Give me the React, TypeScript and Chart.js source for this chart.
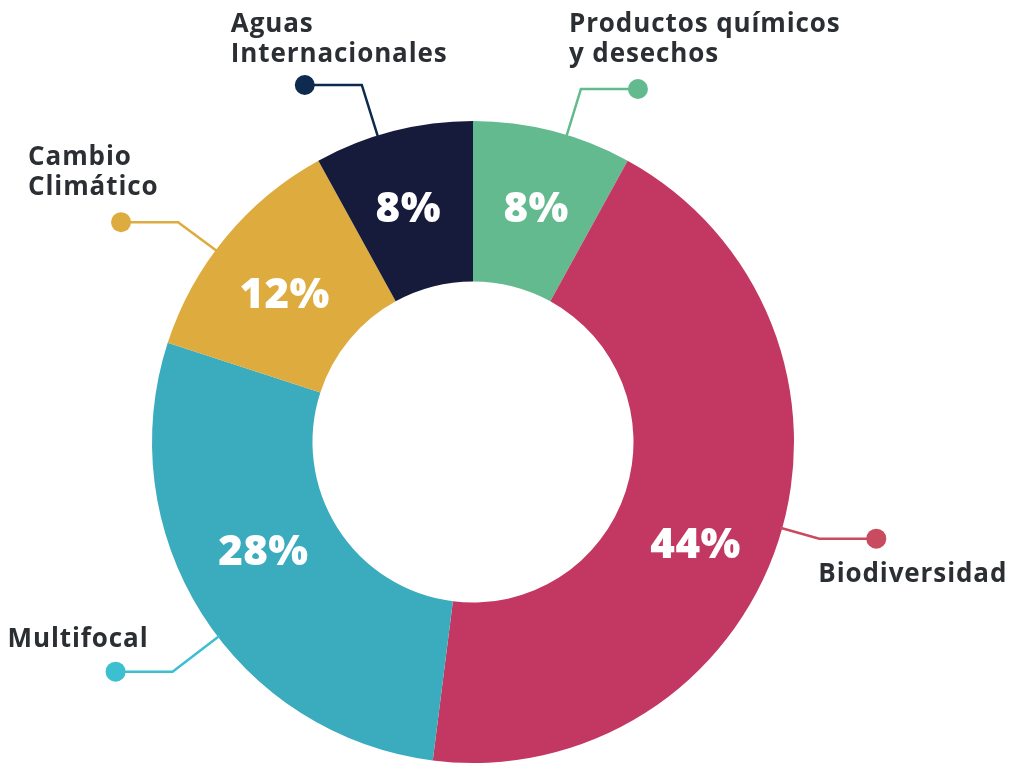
import React, { useEffect, useRef } from "react";
import { Chart, registerables } from "chart.js";

Chart.register(...registerables);

// ---- data ----
const categories: string[][] = [
  ["Productos químicos", "y desechos"],
  ["Biodiversidad"],
  ["Multifocal"],
  ["Cambio", "Climático"],
  ["Aguas", "Internacionales"],
];
const values: number[] = [8, 44, 28, 12, 8];
const percentLabels: string[] = ["8%", "44%", "28%", "12%", "8%"];

// ---- styles ----
const segmentColors = ["#62BA8E", "#C23862", "#3AACBD", "#DEAB3E", "#171B3B"];
const leaderColors = ["#62BA8E", "#C84B5F", "#3DBFD2", "#DEAB3E", "#0E2A4E"];

// label layout (degrees / scale factors / pixel offsets relative to dot)
const pctAngleShift = [0.8, 7, 4.5, -1.8, -1.2];
const pctRadiusScale = [1.0, 1.02, 0.985, 0.99, 1.0];
const leaderAngleShift = [2.6, -2.4, -5, -2.9, -2.9];
const elbowScale = [1.15, 1.12, 1.178, 1.146, 1.165];
const textOffsetX = [-69, -58, -108, -93, -74];
const textBaselineY = [-57, 43, -25, -57, -53];

const DEG = Math.PI / 180;

const labelPlugin = {
  id: "leaderLabels",
  afterDatasetsDraw(chart: any) {
    const ctx: CanvasRenderingContext2D = chart.ctx;
    const meta = chart.getDatasetMeta(0);
    meta.data.forEach((arc: any, i: number) => {
      const p = arc.getProps(
        ["x", "y", "startAngle", "endAngle", "innerRadius", "outerRadius"],
        true
      );
      const mid = (p.startAngle + p.endAngle) / 2;

      // percent label
      ctx.save();
      const pa = mid + pctAngleShift[i] * DEG;
      const pr = ((p.innerRadius + p.outerRadius) / 2) * pctRadiusScale[i];
      ctx.fillStyle = "#FFFFFF";
      ctx.font = "800 42px 'Open Sans'";
      (ctx as any).letterSpacing = "0.5px";
      ctx.textAlign = "center";
      ctx.textBaseline = "middle";
      ctx.fillText(percentLabels[i], p.x + pr * Math.cos(pa), p.y + pr * Math.sin(pa));
      ctx.restore();

      // leader line
      const la = mid + leaderAngleShift[i] * DEG;
      const sx = p.x + (p.outerRadius - 2) * Math.cos(la);
      const sy = p.y + (p.outerRadius - 2) * Math.sin(la);
      const er = p.outerRadius * elbowScale[i];
      const ex = p.x + er * Math.cos(la);
      const ey = p.y + er * Math.sin(la);
      const dir = Math.cos(la) >= 0 ? 1 : -1;
      const dx = ex + dir * 57;
      const dy = ey;

      ctx.save();
      ctx.strokeStyle = leaderColors[i];
      ctx.lineWidth = 2.5;
      ctx.beginPath();
      ctx.moveTo(sx, sy);
      ctx.lineTo(ex, ey);
      ctx.lineTo(dx, dy);
      ctx.stroke();
      ctx.fillStyle = leaderColors[i];
      ctx.beginPath();
      ctx.arc(dx, dy, 10, 0, Math.PI * 2);
      ctx.fill();
      ctx.restore();

      // category text
      ctx.save();
      ctx.fillStyle = "#2B2F33";
      ctx.font = "700 26px 'Open Sans'";
      (ctx as any).letterSpacing = "0.9px";
      ctx.textAlign = "left";
      ctx.textBaseline = "alphabetic";
      const lines = categories[i];
      lines.forEach((line, k) => {
        ctx.fillText(line, dx + textOffsetX[i], dy + textBaselineY[i] + k * 30);
      });
      ctx.restore();
    });
  },
};

export default function App() {
  const canvasRef = useRef<HTMLCanvasElement | null>(null);

  useEffect(() => {
    if (!canvasRef.current) return;
    const chart = new Chart(canvasRef.current, {
      type: "doughnut",
      data: {
        labels: categories.map((c) => c.join(" ")),
        datasets: [
          {
            data: values,
            backgroundColor: segmentColors,
            borderWidth: 0,
            hoverOffset: 0,
          },
        ],
      },
      options: {
        animation: false,
        responsive: true,
        maintainAspectRatio: false,
        cutout: "50%",
        layout: { padding: { left: 152, right: 217, top: 121, bottom: 1 } },
        plugins: {
          legend: { display: false },
          tooltip: { enabled: false },
        },
      },
      plugins: [labelPlugin],
    });
    return () => chart.destroy();
  }, []);

  return (
    <div
      style={{
        position: "absolute",
        left: 0,
        top: 0,
        width: 1011,
        height: 764,
        background: "#FFFFFF",
      }}
    >
      <canvas ref={canvasRef} />
    </div>
  );
}
